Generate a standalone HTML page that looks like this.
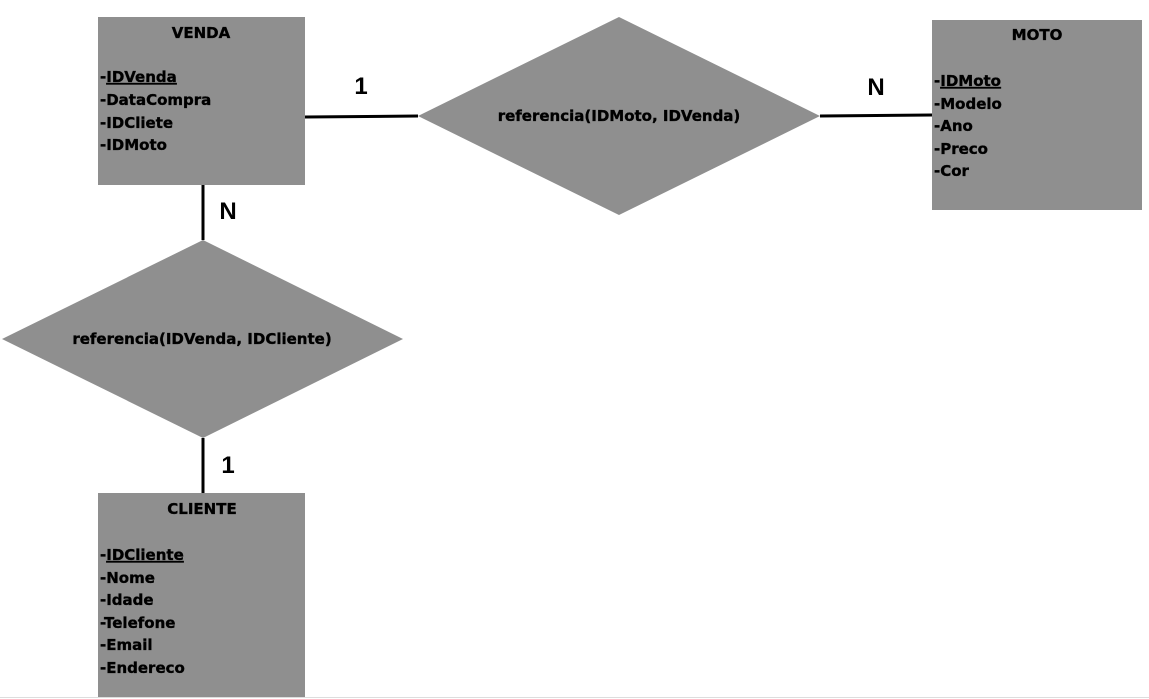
<!DOCTYPE html>
<html><head><meta charset="utf-8"><style>
html,body{margin:0;padding:0;background:#fff;}
svg{display:block;}
text{font-family:"DejaVu Sans","Liberation Sans",sans-serif;font-weight:bold;fill:#000;}
.a{font-size:15px;stroke:#000;stroke-width:0.35px;}
.c{font-size:24px;font-family:"Liberation Sans",sans-serif;}
</style></head><body>
<svg width="1149" height="699" viewBox="0 0 1149 699" xmlns="http://www.w3.org/2000/svg">
<line x1="0" y1="697.5" x2="1149" y2="697.5" stroke="#ddd" stroke-width="1"/>
<g stroke="#000" stroke-width="3">
<line x1="305" y1="117" x2="418" y2="116"/>
<line x1="820" y1="116" x2="932" y2="115"/>
<line x1="203" y1="185" x2="203" y2="240"/>
<line x1="203" y1="438" x2="203" y2="493"/>
</g>
<rect x="98" y="17" width="207" height="168" fill="#8f8f8f"/>
<rect x="932" y="20" width="210" height="190" fill="#8f8f8f"/>
<rect x="98" y="493" width="207" height="204" fill="#8f8f8f"/>
<polygon points="418,116 619,17 820,116 619,215" fill="#8f8f8f"/>
<polygon points="2,339 203,240 403,339 203,438" fill="#8f8f8f"/>
<text class="a" x="201" y="38" text-anchor="middle">VENDA</text>
<text class="a" x="100" y="82">-<tspan text-decoration="underline">IDVenda</tspan></text>
<text class="a" x="100" y="105">-DataCompra</text>
<text class="a" x="100" y="128">-IDCliete</text>
<text class="a" x="100" y="150">-IDMoto</text>
<text class="a" x="1037" y="40" text-anchor="middle">MOTO</text>
<text class="a" x="934" y="86">-<tspan text-decoration="underline">IDMoto</tspan></text>
<text class="a" x="934" y="109">-Modelo</text>
<text class="a" x="934" y="131">-Ano</text>
<text class="a" x="934" y="154">-Preco</text>
<text class="a" x="934" y="176">-Cor</text>
<text class="a" x="202" y="514" text-anchor="middle">CLIENTE</text>
<text class="a" x="100" y="560">-<tspan text-decoration="underline">IDCliente</tspan></text>
<text class="a" x="100" y="583">-Nome</text>
<text class="a" x="100" y="605">-Idade</text>
<text class="a" x="100" y="628">-Telefone</text>
<text class="a" x="100" y="650">-Email</text>
<text class="a" x="100" y="673">-Endereco</text>
<text class="a" x="619" y="121" text-anchor="middle">referencia(IDMoto, IDVenda)</text>
<text class="a" x="202" y="344" text-anchor="middle">referencia(IDVenda, IDCliente)</text>
<text class="c" x="361" y="94" text-anchor="middle">1</text>
<text class="c" x="876" y="95" text-anchor="middle">N</text>
<text class="c" x="228" y="219" text-anchor="middle">N</text>
<text class="c" x="228" y="473" text-anchor="middle">1</text>
</svg>
</body></html>
